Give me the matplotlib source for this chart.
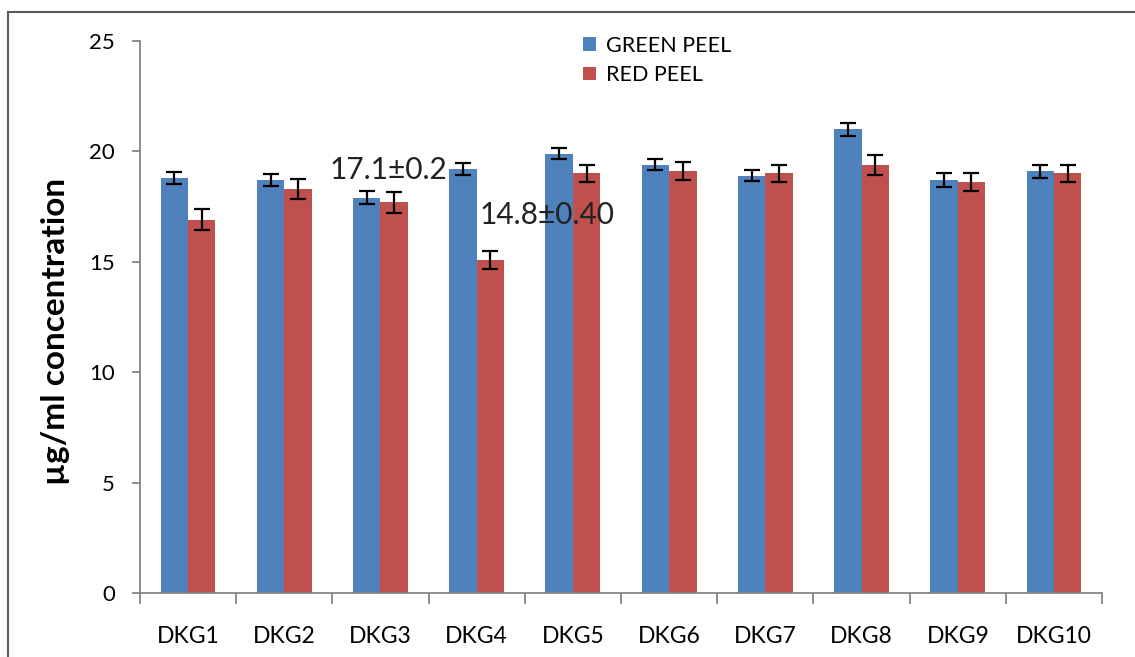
import matplotlib.pyplot as plt
import numpy as np

plt.rcParams['font.family'] = ['Lato', 'DejaVu Sans']

categorias = ['DKG1', 'DKG2', 'DKG3', 'DKG4', 'DKG5', 'DKG6', 'DKG7', 'DKG8', 'DKG9', 'DKG10']
green_peel = [18.8, 18.7, 17.9, 19.2, 19.9, 19.4, 18.9, 21.0, 18.7, 19.1]
green_err = [0.26, 0.26, 0.3, 0.26, 0.26, 0.26, 0.26, 0.3, 0.3, 0.3]
red_peel = [16.9, 18.3, 17.7, 15.1, 19.0, 19.1, 19.0, 19.4, 18.6, 19.0]
red_err = [0.47, 0.46, 0.47, 0.41, 0.4, 0.4, 0.4, 0.45, 0.4, 0.4]

cor_verde = '#4f81bd'
cor_vermelho = '#c0504d'
cor_eixo = '#868686'


def gerar_grafico():
    fig = plt.figure(figsize=(11.35, 6.57), dpi=100)
    ax = fig.add_axes([0.1233, 0.0974, 0.8477, 0.8402])

    x = np.arange(len(categorias))
    largura = 0.285
    erro_kw = dict(ecolor='black', elinewidth=1.6, capsize=5.5, capthick=1.6)
    ax.bar(x - largura / 2, green_peel, largura, color=cor_verde, yerr=green_err,
           error_kw=erro_kw, label='GREEN PEEL', zorder=2)
    ax.bar(x + largura / 2, red_peel, largura, color=cor_vermelho, yerr=red_err,
           error_kw=erro_kw, label='RED PEEL', zorder=2)

    ax.set_xlim(-0.5, len(categorias) - 0.5)
    ax.set_ylim(0, 25)
    ax.set_yticks([0, 5, 10, 15, 20, 25])
    ax.set_xticks(x)
    ax.set_xticklabels(categorias)
    ax.set_xticks(np.arange(-0.5, len(categorias), 1), minor=True)
    ax.tick_params(axis='x', which='major', length=0, pad=24, labelsize=16.5)
    ax.tick_params(axis='x', which='minor', length=8, color=cor_eixo, width=1.3)
    ax.tick_params(axis='y', length=6, color=cor_eixo, width=1.3, pad=12, labelsize=16)

    for lado in ['top', 'right']:
        ax.spines[lado].set_visible(False)
    for lado in ['left', 'bottom']:
        ax.spines[lado].set_color(cor_eixo)
        ax.spines[lado].set_linewidth(1.3)

    ax.set_ylabel('µg/ml concentration', fontsize=24, fontweight='bold')
    ax.yaxis.set_label_coords(-0.073, 0.474)

    ax.text(1.47, 19.17, '17.1±0.2', fontsize=21.5, va='center', ha='left', color='#222222')
    ax.text(3.03, 17.13, '14.8±0.40', fontsize=21.5, va='center', ha='left', color='#222222')

    ax.legend(loc='upper left', bbox_to_anchor=(0.44, 1.045), frameon=False,
              fontsize=15.5, handlelength=0.6, handleheight=0.6, handletextpad=0.5,
              labelspacing=0.45)

    # moldura: linhas superior e esquerda
    fig.add_artist(plt.Line2D([8 / 1135, 1], [1 - 12 / 657, 1 - 12 / 657],
                              color='#595959', linewidth=1.5, transform=fig.transFigure))
    fig.add_artist(plt.Line2D([8 / 1135, 8 / 1135], [0, 1 - 12 / 657],
                              color='#595959', linewidth=1.5, transform=fig.transFigure))

    fig.savefig('out.png', dpi=100)


def main():
    gerar_grafico()


if __name__ == "__main__":
    main()
